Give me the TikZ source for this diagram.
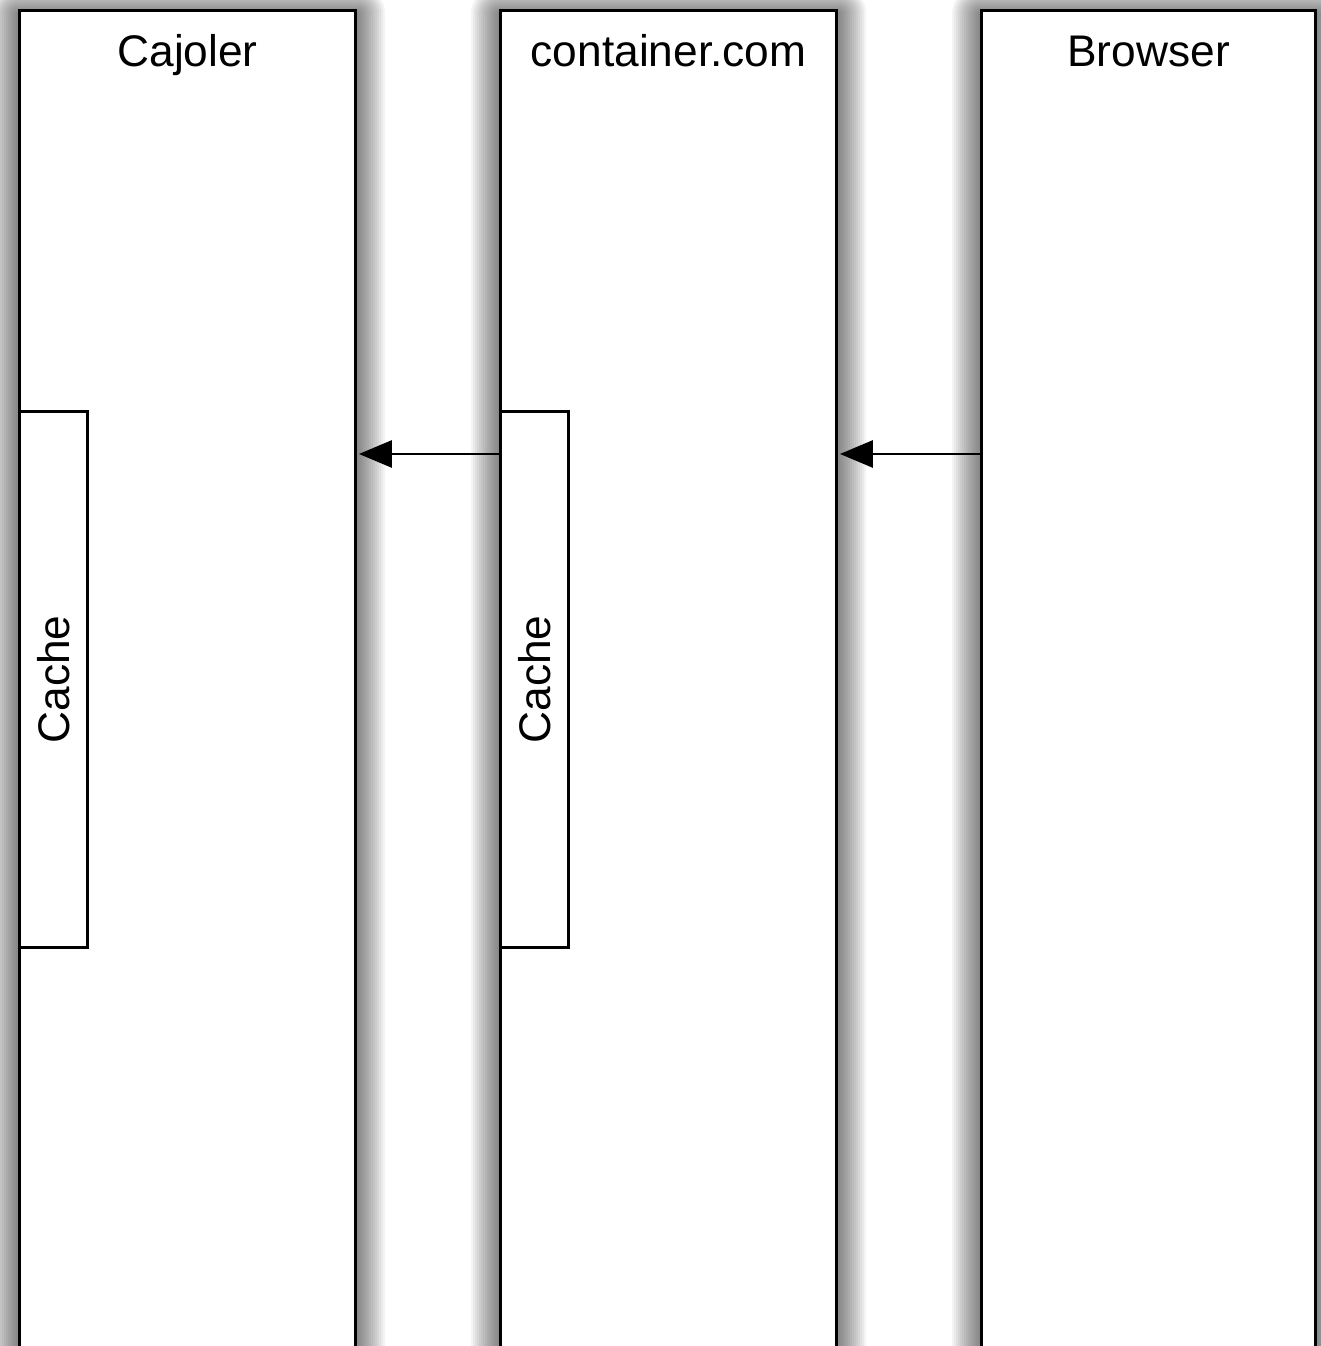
\documentclass[tikz,border=0pt]{standalone}
\usepackage{fontspec}
\setmainfont{Liberation Sans}
\usetikzlibrary{calc,arrows.meta}
\pgfdeclarelayer{background}
\pgfsetlayers{background,main}
\newcommand{\LaneW}{3.36cm}
\newcommand{\LaneH}{14.2cm}
\newcommand{\CacheW}{0.68cm}
\newcommand{\CacheH}{5.36cm}
\newcommand{\ShadowSteps}{14}
\tikzset{
  lane/.style={
    draw,fill=white,line width=0.9pt,anchor=north west,
    minimum width=\LaneW,minimum height=\LaneH,inner sep=0pt
  },
  lanetitle/.style={anchor=base,font=\fontsize{12.6}{15}\selectfont},
  cachebox/.style={
    draw,fill=white,line width=0.9pt,anchor=north west,
    minimum width=\CacheW,minimum height=\CacheH,inner sep=0pt
  },
  cachelabel/.style={rotate=90,font=\fontsize{12.6}{15}\selectfont},
  callarrow/.style={
    line width=0.8pt,shorten >=0.5pt,
    -{Triangle[length=3.3mm,width=2.7mm]}
  }
}
\newcommand{\DrawLaneShadow}[1]{%
  \foreach \s in {1,...,\ShadowSteps} {
    \pgfmathsetmacro{\GrowTmp}{\s*0.02}
    \fill[black,opacity=0.042,rounded corners=\GrowTmp cm]
      ($(#1.north west)+(-\GrowTmp,\GrowTmp-0.05)$)
      rectangle ($(#1.south east)+(\GrowTmp,-\GrowTmp-0.05)$);
  }
}

\begin{document}
\begin{tikzpicture}
  \useasboundingbox (0,0) rectangle (13.2,13.46);

  % the three lanes
  \node[lane] (cajoler) at (0.18,13.37) {};
  \node[lane] (container) at (4.99,13.37) {};
  \node[lane,minimum width=3.34cm] (browser) at (9.80,13.37) {};

  \begin{pgfonlayer}{background}
    \DrawLaneShadow{cajoler}
    \DrawLaneShadow{container}
    \DrawLaneShadow{browser}
  \end{pgfonlayer}

  \node[lanetitle] (cajolertitle) at ($(cajoler.north)+(0,-0.58)$) {Cajoler};
  \node[lanetitle] (containertitle) at ($(container.north)+(0,-0.58)$) {container.com};
  \node[lanetitle] (browsertitle) at ($(browser.north)+(0,-0.58)$) {Browser};

  % caches
  \node[cachebox] (cajolercache) at (0.18,9.36) {};
  \node[cachebox] (containercache) at (4.99,9.36) {};
  \node[cachelabel] (cajolercachelabel) at (cajolercache.center) {Cache};
  \node[cachelabel] (containercachelabel) at (containercache.center) {Cache};

  % requests
  \coordinate (req) at (0,8.92);
  \draw[callarrow] (browser.west |- req) -- (container.east |- req);
  \draw[callarrow] (container.west |- req) -- (cajoler.east |- req);
\end{tikzpicture}
\end{document}
